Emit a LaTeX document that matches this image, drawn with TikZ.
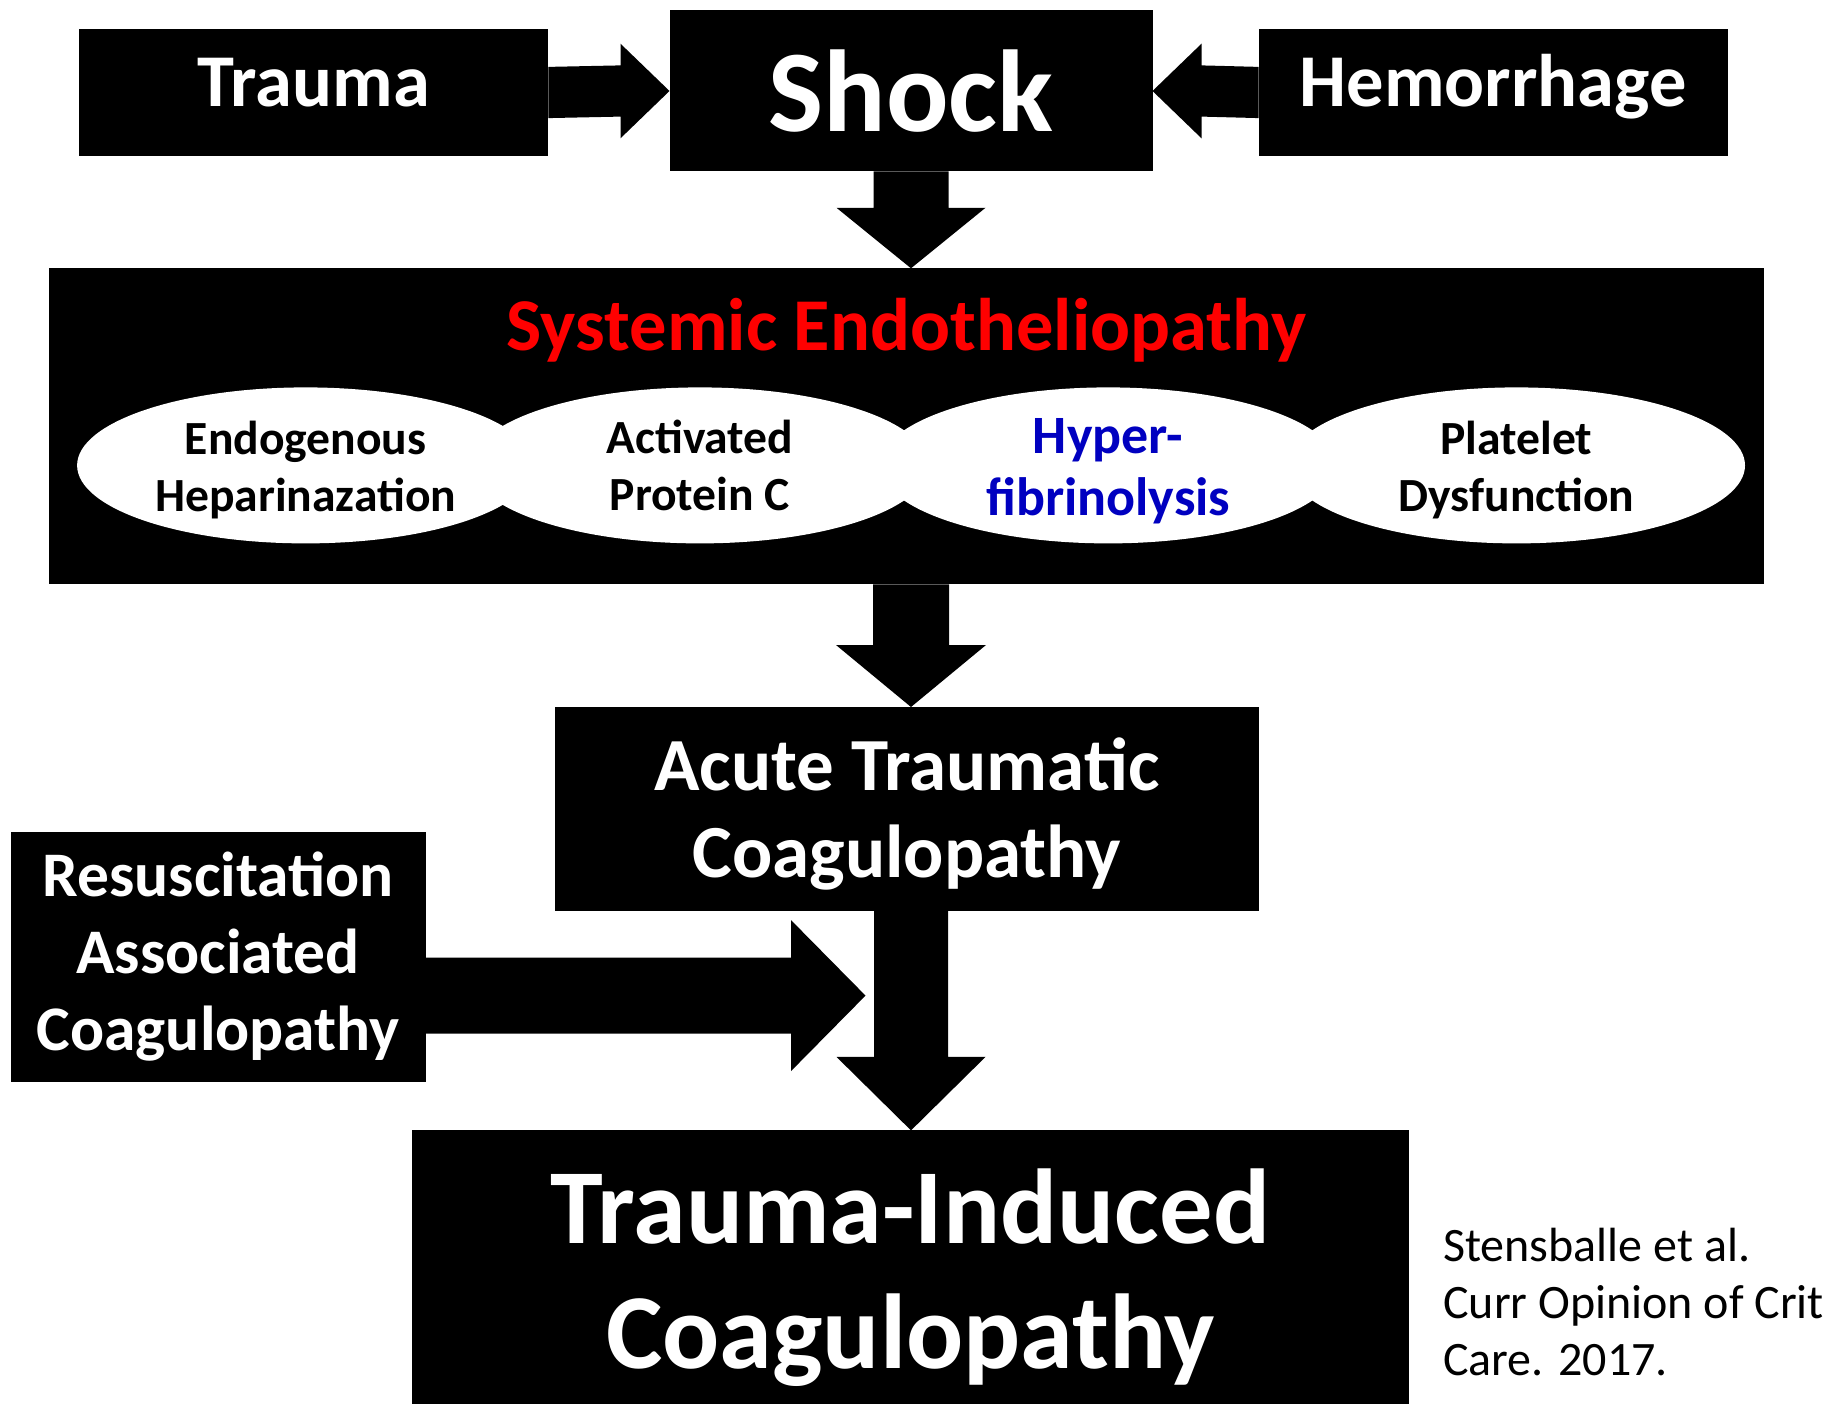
\documentclass[tikz,border=0pt]{standalone}
\usepackage{fontspec}
\setmainfont{Carlito}
\usepackage{xcolor}
\usetikzlibrary{calc,shapes.geometric}
\definecolor{ticred}{RGB}{255,0,0}
\definecolor{ticblue}{RGB}{0,0,192}
\tikzset{
  ticbox/.style={
    rectangle,
    fill=black,
    text=white,
    align=center,
    inner sep=0pt,
    outer sep=0pt,
    font=\bfseries
  },
  ticoval/.style={
    ellipse,
    fill=white,
    inner sep=0pt,
    outer sep=0pt,
    minimum width=457pt,
    minimum height=156pt
  },
  ticlbl/.style={
    align=center,
    inner sep=0pt,
    text=black,
    font=\fontsize{47.6}{57}\selectfont\bfseries
  },
  ticarrow/.style={fill=black, draw=none}
}

\begin{document}
\begin{tikzpicture}[x=1pt, y=-1pt]
\path[use as bounding box] (0,0) rectangle (1829,1404);
\clip (0,0) rectangle (1829,1404);
% top row
\node[ticbox, minimum width=469pt, minimum height=127pt, text height=48pt, text depth=19pt, font=\fontsize{74.5}{90}\selectfont\bfseries] (trauma) at (313.8,92.5) {Trauma};
\node[ticbox, minimum width=483pt, minimum height=161pt, font=\fontsize{116.5}{130}\selectfont\bfseries] (shock) at (911,91) {Shock};
\node[ticbox, minimum width=469pt, minimum height=127pt, text height=48pt, text depth=19pt, font=\fontsize{74.5}{90}\selectfont\bfseries] (hem) at (1493.2,92.5) {Hemorrhage};
% endotheliopathy block
\node[ticbox, minimum width=1714.8pt, minimum height=316.1pt] (endo) at (906.4,426.35) {};
\node[text=ticred, inner sep=0pt, font=\fontsize{74.5}{90}\selectfont\bfseries] (endotitle) at (906.4,330) {Systemic Endotheliopathy};
\node[ticoval] (heparin) at (305.6,465.4) {};
\node[ticoval] (apc) at (699.9,465.4) {};
\node[ticoval] (hyperfib) at (1108.2,465.4) {};
\node[ticoval] (platelet) at (1516.5,465.4) {};
\node[ticlbl] (heparinlbl) at (heparin.center) [yshift=-4.6pt] {Endogenous\\Heparinazation};
\node[ticlbl] (apclbl) at (apc.center) {Activated\\Protein C};
\node[ticlbl, text=ticblue, font=\fontsize{54}{62}\selectfont\bfseries] (hyperfiblbl) at (hyperfib.center) [yshift=-5.6pt] {Hyper-\\fibrinolysis};
\node[ticlbl] (plateletlbl) at (platelet.center) [yshift=-4.6pt] {Platelet\\Dysfunction};
% lower boxes
\node[ticbox, minimum width=703.7pt, minimum height=204pt] (atc) at (906.85,809) {};
\node[ticlbl, text=white, font=\fontsize{75}{87.5}\selectfont\bfseries] (atclbl) at (906.85,814) {Acute Traumatic\\Coagulopathy};
\node[ticbox, minimum width=415.3pt, minimum height=250.6pt, font=\fontsize{63.5}{77}\selectfont\bfseries] (rac) at (218.15,957) {Resuscitation\\Associated\\Coagulopathy};
\node[ticbox, anchor=north, minimum width=997.2pt, minimum height=295pt, font=\fontsize{106.5}{125}\selectfont\bfseries] (tic) at (910.4,1130.4) {Trauma-Induced\\Coagulopathy};
\node[anchor=west, align=left, inner sep=0pt, font=\fontsize{48}{56.6}\selectfont] (cite) at (1443,1302) {Stensballe et al.\\Curr Opinion of Crit\\Care. 2017.};
% block arrows
\fill[ticarrow] ($(trauma.east)+(0,-25.6)$) -- ($(shock.west)+(-49,-25.6)$) -- ($(shock.west)+(-49,-47.3)$) -- (shock.west) -- ($(shock.west)+(-49,47.3)$) -- ($(shock.west)+(-49,25.6)$) -- ($(trauma.east)+(0,25.6)$) -- cycle;
\fill[ticarrow] ($(hem.west)+(0,-25.6)$) -- ($(shock.east)+(49,-25.6)$) -- ($(shock.east)+(49,-47.3)$) -- (shock.east) -- ($(shock.east)+(49,47.3)$) -- ($(shock.east)+(49,25.6)$) -- ($(hem.west)+(0,25.6)$) -- cycle;
\coordinate (tipc) at (shock.south |- endo.north);
\fill[ticarrow] ($(shock.south)+(-37.5,0)$) -- ($(tipc)+(-37.5,-60.5)$) -- ($(tipc)+(-74.5,-60.5)$) -- (tipc) -- ($(tipc)+(74.5,-60.5)$) -- ($(tipc)+(37.5,-60.5)$) -- ($(shock.south)+(37.5,0)$) -- cycle;
\coordinate (topd) at (shock.south |- endo.south);
\coordinate (tipd) at (shock.south |- atc.north);
\fill[ticarrow] ($(topd)+(-38,0)$) -- ($(tipd)+(-38,-62)$) -- ($(tipd)+(-75,-62)$) -- (tipd) -- ($(tipd)+(75,-62)$) -- ($(tipd)+(38,-62)$) -- ($(topd)+(38,0)$) -- cycle;
\coordinate (tope) at (shock.south |- atc.south);
\coordinate (tipe) at (shock.south |- tic.north);
\fill[ticarrow] ($(tope)+(-37,0)$) -- ($(tipe)+(-37,-73.5)$) -- ($(tipe)+(-74.5,-73.5)$) -- (tipe) -- ($(tipe)+(74.5,-73.5)$) -- ($(tipe)+(37,-73.5)$) -- ($(tope)+(37,0)$) -- cycle;
\coordinate (meet) at (865.5,995.6);
\fill[ticarrow] ($(rac.east |- meet)+(0,-38)$) -- ($(meet)+(-74.5,-38)$) -- ($(meet)+(-74.5,-75.5)$) -- (meet) -- ($(meet)+(-74.5,75.5)$) -- ($(meet)+(-74.5,38)$) -- ($(rac.east |- meet)+(0,38)$) -- cycle;
\end{tikzpicture}
\end{document}
